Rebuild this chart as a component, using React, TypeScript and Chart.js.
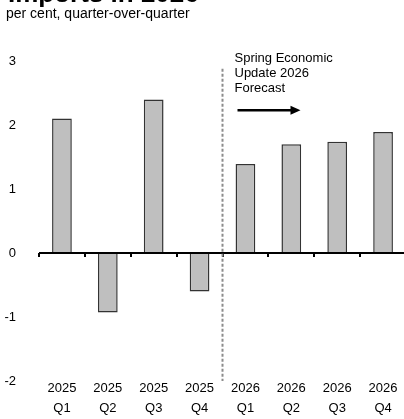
import React, { useEffect, useRef } from "react";
import { Chart, registerables } from "chart.js";

Chart.register(...registerables);

const titleText = "Imports in 2026";
const subtitleText = "per cent, quarter-over-quarter";
const categories: string[][] = [
  ["2025", "Q1"], ["2025", "Q2"], ["2025", "Q3"], ["2025", "Q4"],
  ["2026", "Q1"], ["2026", "Q2"], ["2026", "Q3"], ["2026", "Q4"],
];
const growth: number[] = [2.1, -0.93, 2.4, -0.6, 1.39, 1.7, 1.74, 1.89];
const forecastStartIndex = 4;
const forecastLabel: string[] = ["Spring Economic", "Update 2026", "Forecast"];
const yMin = -2;
const yMax = 3;

const FONT = "'Liberation Sans', Arial, sans-serif";

const overlay = {
  id: "overlay",
  afterDatasetsDraw(chart: any) {
    const { ctx, chartArea, scales } = chart;
    const x = scales.x;
    const y = scales.y;
    const y0 = y.getPixelForValue(0);
    const n = categories.length;
    const step = (chartArea.right - chartArea.left) / n;
    ctx.save();
    // zero axis line
    ctx.strokeStyle = "#000";
    ctx.lineWidth = 2;
    ctx.beginPath();
    ctx.moveTo(chartArea.left, y0);
    ctx.lineTo(chartArea.right, y0);
    ctx.stroke();
    // tick marks at category boundaries
    ctx.fillStyle = "#000";
    for (let i = 0; i <= n; i++) {
      const bx = x.getPixelForValue(i) - step / 2;
      ctx.fillRect(Math.round(bx) - 1, y0, 2, 4);
    }
    // dashed forecast divider
    const dx = x.getPixelForValue(forecastStartIndex) - step / 2;
    ctx.strokeStyle = "#8c8c8c";
    ctx.lineWidth = 2;
    ctx.setLineDash([3, 2]);
    ctx.beginPath();
    ctx.moveTo(dx, y.getPixelForValue(2.88));
    ctx.lineTo(dx, chartArea.bottom);
    ctx.stroke();
    ctx.setLineDash([]);
    // annotation text
    ctx.fillStyle = "#000";
    ctx.font = `13px ${FONT}`;
    ctx.textAlign = "left";
    ctx.textBaseline = "middle";
    const tx = dx + 12;
    const ty = y.getPixelForValue(3.04);
    forecastLabel.forEach((t, i) => ctx.fillText(t, tx, ty + i * 15));
    // arrow
    const ay = y.getPixelForValue(2.23);
    ctx.strokeStyle = "#000";
    ctx.lineWidth = 2.5;
    ctx.beginPath();
    ctx.moveTo(dx + 15, ay);
    ctx.lineTo(dx + 70, ay);
    ctx.stroke();
    ctx.beginPath();
    ctx.moveTo(dx + 78, ay);
    ctx.lineTo(dx + 68, ay - 4.5);
    ctx.lineTo(dx + 68, ay + 4.5);
    ctx.closePath();
    ctx.fill();
    // title (cut off at top) and subtitle
    ctx.font = `bold 26px ${FONT}`;
    ctx.textBaseline = "alphabetic";
    ctx.fillText(titleText, 8, 2);
    ctx.font = `14px ${FONT}`;
    ctx.fillText(subtitleText, 6, 18);
    ctx.restore();
  },
};

export default function App() {
  const ref = useRef<HTMLCanvasElement>(null);
  useEffect(() => {
    if (!ref.current) return;
    const chart = new Chart(ref.current, {
      type: "bar",
      data: {
        labels: categories,
        datasets: [
          {
            data: growth,
            backgroundColor: "#bfbfbf",
            borderColor: "#333333",
            borderWidth: 1.5,
            barPercentage: 0.43,
            categoryPercentage: 1,
          },
        ],
      },
      options: {
        animation: false,
        responsive: false,
        devicePixelRatio: 1,
        layout: { padding: { top: 61, right: 1, left: 0, bottom: 0 } },
        plugins: { legend: { display: false }, tooltip: { enabled: false }, title: { display: false } },
        scales: {
          x: {
            grid: { display: false, drawTicks: false },
            border: { display: false },
            ticks: {
              color: "#000",
              font: { family: FONT, size: 13, lineHeight: 1.5 },
              padding: -2,
              maxRotation: 0,
              autoSkip: false,
            },
            afterFit: (s: any) => { s.height = 38; },
          },
          y: {
            min: yMin,
            max: yMax,
            grid: { display: false, drawTicks: false },
            border: { display: false },
            ticks: {
              stepSize: 1,
              color: "#000",
              font: { family: FONT, size: 13 },
              padding: 23,
            },
            afterFit: (s: any) => { s.width = 39; },
          },
        },
      },
      plugins: [overlay],
    });
    return () => chart.destroy();
  }, []);
  return (
    <div style={{ position: "absolute", left: 0, top: 0, width: 404, height: 419, overflow: "hidden", background: "#fff" }}>
      <canvas ref={ref} width={407} height={419} style={{ display: "block" }} />
    </div>
  );
}
